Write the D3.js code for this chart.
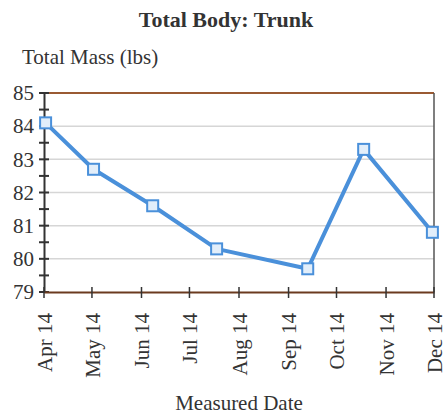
<!DOCTYPE html>
<html>
<head>
<meta charset="utf-8">
<script src="https://cdn.jsdelivr.net/npm/d3@7"></script>
<style>
  body { margin: 0; background: #fff; }
  text { font-family: "Liberation Serif", "DejaVu Serif", serif; fill: #333; }
</style>
</head>
<body>
<svg id="chart"></svg>
<script>
// measured dates and trunk mass (lbs)
let dates = ["2014-04-02", "2014-05-02", "2014-06-08", "2014-07-18", "2014-09-13", "2014-10-18", "2014-11-30"];
let masses = [84.1, 82.7, 81.6, 80.3, 79.7, 83.3, 80.8];
let monthTicks = ["2014-04-01", "2014-05-01", "2014-06-01", "2014-07-01", "2014-08-01",
                  "2014-09-01", "2014-10-01", "2014-11-01", "2014-12-01"];
let yTicks = [79, 80, 81, 82, 83, 84, 85];
let yMinorTicks = [79.5, 80.5, 81.5, 82.5, 83.5, 84.5];

function drawChart() {
    let width = 443, height = 417;
    let margin = {top: 93, right: 9, bottom: 125, left: 44};
    let parse = d3.timeParse("%Y-%m-%d");
    let fmt = d3.timeFormat("%b %y");

    let svg = d3.select("#chart").attr("width", width).attr("height", height);

    let x = d3.scaleTime()
        .domain([parse(monthTicks[0]), parse(monthTicks[monthTicks.length - 1])])
        .range([margin.left, width - margin.right]);
    let y = d3.scaleLinear()
        .domain([79, 85])
        .range([height - margin.bottom, margin.top]);

    let data = dates.map((d, i) => ({date: parse(d), value: masses[i]}));

    // grid lines
    svg.append("g").selectAll("line")
        .data(yTicks.filter(v => v > 79 && v < 85))
        .enter().append("line")
        .attr("x1", x.range()[0]).attr("x2", x.range()[1])
        .attr("y1", d => y(d)).attr("y2", d => y(d))
        .attr("stroke", "#d6d6d6")
        .attr("stroke-width", 1.5);

    // frame: top (brown), right
    svg.append("line")
        .attr("x1", x.range()[0]).attr("x2", x.range()[1])
        .attr("y1", y(85)).attr("y2", y(85))
        .attr("stroke", "#9a5a32").attr("stroke-width", 2);
    svg.append("line")
        .attr("x1", x.range()[1]).attr("x2", x.range()[1])
        .attr("y1", y(85)).attr("y2", y(79))
        .attr("stroke", "#555").attr("stroke-width", 1.5);

    // y axis
    let yAxis = d3.axisLeft(y).tickValues(yTicks).tickSize(0).tickPadding(10)
        .tickFormat(d3.format("d"));
    let gy = svg.append("g")
        .attr("transform", "translate(" + margin.left + ",0)")
        .call(yAxis);
    gy.select(".domain").attr("stroke", "#333").attr("stroke-width", 2);
    gy.selectAll("text").attr("font-size", 21).attr("fill", "#333")
        .style("font-family", "Liberation Serif");
    gy.selectAll(".crossTick")
        .data(yTicks.concat(yMinorTicks))
        .enter().append("line")
        .attr("x1", -5).attr("x2", 5)
        .attr("y1", d => y(d)).attr("y2", d => y(d))
        .attr("stroke", "#333").attr("stroke-width", 2);

    // x axis
    let xAxis = d3.axisBottom(x).tickValues(monthTicks.map(parse)).tickSize(0)
        .tickFormat(fmt);
    let gx = svg.append("g")
        .attr("transform", "translate(0," + y(79) + ")")
        .call(xAxis);
    gx.select(".domain").attr("stroke", "#6b3a1f").attr("stroke-width", 2);
    gx.selectAll(".tick text")
        .attr("font-size", 21).attr("fill", "#333")
        .style("font-family", "Liberation Serif")
        .attr("text-anchor", "end")
        .attr("transform", "rotate(-90)")
        .attr("x", -21).attr("y", 0).attr("dy", "0.35em");
    gx.selectAll(".crossTick")
        .data(monthTicks.map(parse))
        .enter().append("line")
        .attr("x1", d => x(d)).attr("x2", d => x(d))
        .attr("y1", -5).attr("y2", 6)
        .attr("stroke", "#333").attr("stroke-width", 1.5);

    // series line
    let line = d3.line().x(d => x(d.date)).y(d => y(d.value));
    svg.append("path")
        .datum(data)
        .attr("d", line)
        .attr("fill", "none")
        .attr("stroke", "#4a90da")
        .attr("stroke-width", 4)
        .attr("stroke-linejoin", "round");

    // markers
    let s = 11;
    svg.append("g").selectAll("rect")
        .data(data)
        .enter().append("rect")
        .attr("x", d => x(d.date) - s / 2)
        .attr("y", d => y(d.value) - s / 2)
        .attr("width", s).attr("height", s)
        .attr("fill", "#e2eefa")
        .attr("stroke", "#4a90da")
        .attr("stroke-width", 2);

    // titles
    svg.append("text")
        .attr("x", 226).attr("y", 27)
        .attr("text-anchor", "middle")
        .attr("font-size", 22).attr("font-weight", "bold")
        .text("Total Body: Trunk");
    svg.append("text")
        .attr("x", 22).attr("y", 64)
        .attr("font-size", 21)
        .text("Total Mass (lbs)");
    svg.append("text")
        .attr("x", (x.range()[0] + x.range()[1]) / 2).attr("y", 410)
        .attr("text-anchor", "middle")
        .attr("font-size", 21)
        .text("Measured Date");
}

drawChart();
</script>
</body>
</html>
